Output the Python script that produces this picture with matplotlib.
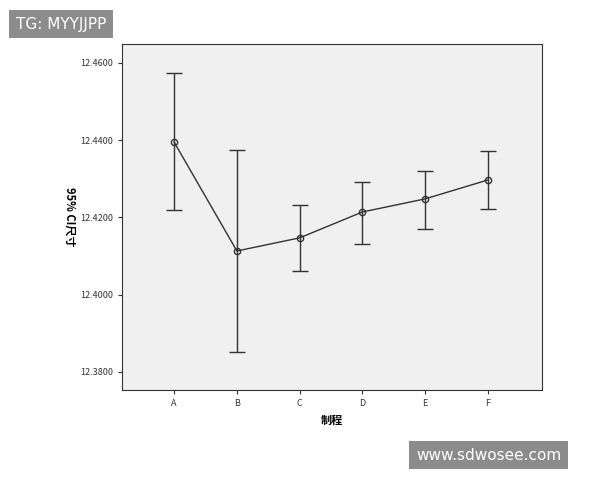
import matplotlib
matplotlib.use("Agg")
import matplotlib.pyplot as plt

cats = ["A", "B", "C", "D", "E", "F"]
means = [12.4395, 12.4113, 12.4147, 12.4214, 12.4248, 12.4297]
upper = [12.4574, 12.4375, 12.4233, 12.4292, 12.4320, 12.4372]
lower = [12.4219, 12.3852, 12.4062, 12.4131, 12.4170, 12.4222]
yticks = [12.38, 12.40, 12.42, 12.44, 12.46]

plt.rcParams['font.family'] = ['Noto Sans CJK SC', 'DejaVu Sans']
fig = plt.figure(figsize=(6, 4.8), dpi=100)
ax = fig.add_axes([122/600, 1-390/480, 420/600, 346/480])
ax.set_facecolor("#f0f0f0")
x = list(range(len(cats)))
yerr = [[m - l for m, l in zip(means, lower)], [u - m for m, u in zip(means, upper)]]
ax.errorbar(x, means, yerr=yerr, color="#333333", lw=1, capsize=6, capthick=1,
            marker="o", mfc="none", mec="#333333", ms=4.5, elinewidth=1)
ax.set_xlim(-0.83, 5.86)
ax.set_ylim(12.3753, 12.4649)
ax.set_xticks(x, cats)
ax.set_yticks(yticks, [f"{v:.4f}" for v in yticks])
ax.tick_params(labelsize=6.5, length=3, colors="#333333")
for s in ax.spines.values():
    s.set_color("#333333")
ax.set_xlabel("制程", fontsize=8, fontweight="bold")
ax.set_ylabel("95% CI尺寸", fontsize=8, fontweight="bold", rotation=270, labelpad=12)
fig.text(16/600, 1-24/480, "TG: MYYJJPP", fontsize=11, color="white", va="center",
         family="DejaVu Sans",
         bbox=dict(boxstyle="square,pad=0.45", fc="#8c8c8c", ec="none"))
fig.text(416/600, 1-455/480, "www.sdwosee.com", fontsize=11, color="white", va="center",
         family="DejaVu Sans",
         bbox=dict(boxstyle="square,pad=0.45", fc="#8c8c8c", ec="none"))
fig.savefig("out.png", dpi=100)
